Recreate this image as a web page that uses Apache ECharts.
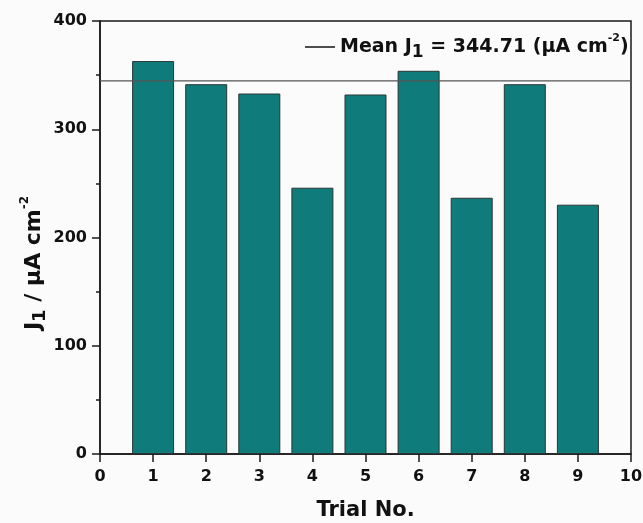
<!DOCTYPE html>
<html>
<head>
<meta charset="utf-8">
<script src="https://cdn.jsdelivr.net/npm/echarts@6/dist/echarts.min.js"></script>
<style>
html,body{margin:0;padding:0;background:#fbfbfb;}
#chart{width:643px;height:523px;}
</style>
</head>
<body>
<div id="chart"></div>
<script>
// ---- data ----
const trials = [1, 2, 3, 4, 5, 6, 7, 8, 9];
const j1Values = [363, 341.6, 333, 246, 332.1, 354, 236.7, 341.6, 230.3];
const meanJ1 = 344.71;
const xRange = [0, 10];
const yRange = [0, 400];
const xLabel = 'Trial No.';
const meanLabel = 'Mean J1 = 344.71 (μA cm-2)';

const FONT = 'DejaVu Sans';
const TXT = '#111';

const barData = trials.map((t, i) => [t, j1Values[i]]);
const meanData = xRange.map(x => [x, meanJ1]);

const chart = echarts.init(document.getElementById('chart'), null, {renderer: 'canvas'});
chart.setOption({
  backgroundColor: '#fbfbfb',
  animation: false,
  grid: {left: 100, right: 12, top: 21, bottom: 69, show: true,
         borderColor: '#1a1a1a', borderWidth: 1.5, backgroundColor: 'transparent',
         containLabel: false, outerBoundsMode: 'none'},
  legend: {
    data: ['Mean'],
    left: 300, top: 28,
    itemWidth: 30, itemHeight: 14, itemGap: 8,
    icon: 'path://M0,0 L30,0 L30,1.6 L0,1.6 Z',
    itemStyle: {color: '#222'},
    formatter: () => '{b|Mean J}{sub|1}{b| = ' + meanJ1.toFixed(2) + ' (μA cm}{sup|-2}{b|)}',
    textStyle: {
      fontFamily: FONT, fontWeight: 'bold', color: TXT, fontSize: 19,
      rich: {
        b: {fontFamily: FONT, fontWeight: 'bold', fontSize: 19, color: TXT, lineHeight: 28},
        sub: {fontFamily: FONT, fontWeight: 'bold', fontSize: 17, color: TXT, verticalAlign: 'bottom', lineHeight: 17},
        sup: {fontFamily: FONT, fontWeight: 'bold', fontSize: 11, color: TXT, verticalAlign: 'top', lineHeight: 11}
      }
    }
  },
  xAxis: {
    type: 'value', min: xRange[0], max: xRange[1], interval: 1,
    name: xLabel, nameLocation: 'middle', nameGap: 46,
    nameTextStyle: {fontFamily: FONT, fontWeight: 'bold', fontSize: 21, color: TXT},
    axisLine: {show: true, lineStyle: {color: '#1a1a1a', width: 1.5}},
    axisTick: {show: true, inside: false, length: 8, lineStyle: {color: '#1a1a1a', width: 1.5}},
    axisLabel: {margin: 15, fontFamily: FONT, fontWeight: 'bold', fontSize: 16, color: TXT},
    splitLine: {show: false}
  },
  yAxis: {
    type: 'value', min: yRange[0], max: yRange[1], interval: 100,
    axisLine: {show: true, lineStyle: {color: '#1a1a1a', width: 1.5}},
    axisTick: {show: true, inside: false, length: 8, lineStyle: {color: '#1a1a1a', width: 1.5}},
    minorTick: {show: true, splitNumber: 2, length: 4, lineStyle: {color: '#1a1a1a', width: 1.5}},
    axisLabel: {margin: 13, fontFamily: FONT, fontWeight: 'bold', fontSize: 16, color: TXT},
    splitLine: {show: false}
  },
  graphic: [{
    type: 'text', x: 34, y: 263, rotation: Math.PI / 2,
    style: {
      text: '{b|J}{sub|1}{b| / μA cm}{sup|-2}',
      align: 'center', verticalAlign: 'middle',
      rich: {
        b: {fontFamily: FONT, fontWeight: 'bold', fontSize: 22, fill: TXT, lineHeight: 30},
        sub: {fontFamily: FONT, fontWeight: 'bold', fontSize: 18, fill: TXT, verticalAlign: 'bottom', lineHeight: 18},
        sup: {fontFamily: FONT, fontWeight: 'bold', fontSize: 12, fill: TXT, verticalAlign: 'top', lineHeight: 12}
      }
    }
  }],
  series: [
    {
      name: 'J1', type: 'bar', data: barData, barWidth: 42,
      itemStyle: {color: '#0f7c7b', borderColor: '#2b3535', borderWidth: 1}
    },
    {
      name: 'Mean', type: 'line', data: meanData, symbol: 'none',
      lineStyle: {color: '#555', width: 1.2}, z: 3
    }
  ]
});
</script>
</body>
</html>
